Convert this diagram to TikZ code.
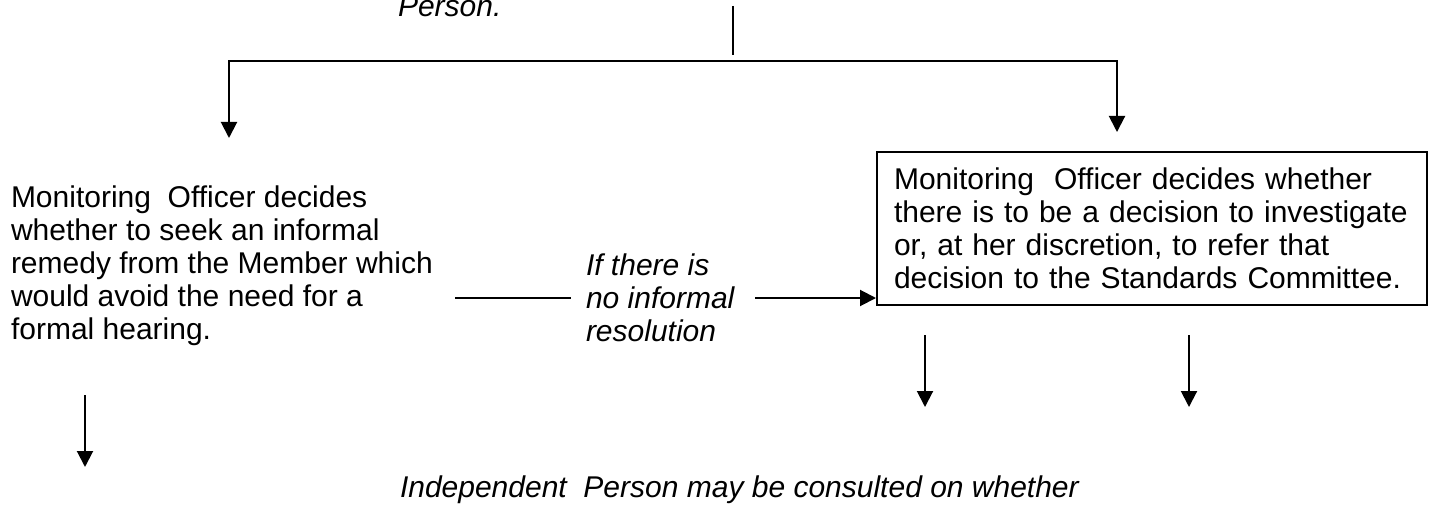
\documentclass[tikz,border=0pt]{standalone}
\usepackage{fontspec}
\setmainfont{Liberation Sans}
\usetikzlibrary{arrows.meta}

\newcommand\flowfont{\fontsize{30}{33}\selectfont}

\tikzset{
    >={Triangle[width=16pt,length=16pt]},
    plain/.style={inner sep=0pt, align=left, font=\flowfont},
    slant/.style={inner sep=0pt, align=left, font=\flowfont\itshape},
    stepbox/.style={draw, inner xsep=17pt, inner ysep=0pt, text width=516pt,
        minimum height=153pt, align=left, font=\flowfont}
}

\begin{document}
\begin{tikzpicture}[x=1pt, y=-1pt, line width=2pt]
    \useasboundingbox (0,0) rectangle (1434,505);

    \node[slant, anchor=base west] (person) at (397,17) {Person.};
    \node[plain, anchor=west] (remedy) at (10,266) {Monitoring\ \ Officer decides\\whether to seek an informal\\remedy from the Member which\\would avoid the need for a\\formal hearing.};
    \node[slant, anchor=west] (noresolve) at (585,298) {If there is\\no informal\\resolution};
    \node[stepbox] (decide) at (1152,228.5) {Monitoring\ \ Officer decides whether\\there is to be a decision to investigate\\or, at her discretion, to refer that\\decision to the Standards Committee.};
    \node[slant, anchor=base west] (consult) at (399,497) {Independent\ \ Person may be consulted on whether};

    \coordinate (stem top) at (733,6);
    \coordinate (stem foot) at (733,55);
    \coordinate (split left) at (229,61);
    \coordinate (split right) at (1117,61);
    \coordinate (left tip) at (229,138);
    \coordinate (right tip) at (1117,132);
    \coordinate (stub) at (455,298);
    \coordinate (out a) at (925,335);
    \coordinate (out a tip) at (925,407);
    \coordinate (out b) at (1189,335);
    \coordinate (out b tip) at (1189,407);
    \coordinate (down) at (85,395);
    \coordinate (down tip) at (85,467);

    \draw (stem top) -- (stem foot);
    \draw[<->] (left tip) -- (split left) -- (split right) -- (right tip);
    \draw (stub) -- ([xshift=-14pt]noresolve.west);
    \draw[->] ([xshift=20pt]noresolve.east) -- (noresolve.east -| decide.west);
    \draw[->] (out a) -- (out a tip);
    \draw[->] (out b) -- (out b tip);
    \draw[->] (down) -- (down tip);

\end{tikzpicture}
\end{document}
